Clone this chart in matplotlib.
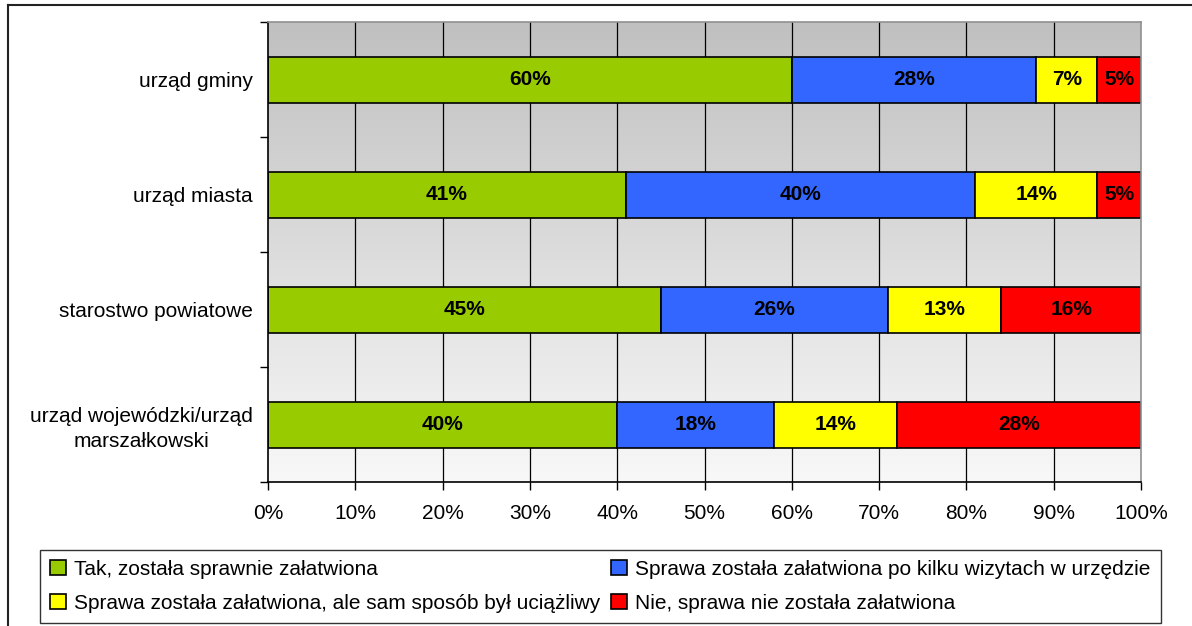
import matplotlib.pyplot as plt
import numpy as np
from matplotlib.lines import Line2D
from matplotlib.patches import Patch
from matplotlib.colors import LinearSegmentedColormap

plt.rcParams['font.family'] = ['Liberation Sans', 'DejaVu Sans']

# Categories from top to bottom
offices = ['urząd gminy', 'urząd miasta', 'starostwo powiatowe',
           'urząd wojewódzki/urząd\nmarszałkowski']
series_names = ['Tak, została sprawnie załatwiona',
                'Sprawa została załatwiona po kilku wizytach w urzędzie',
                'Sprawa została załatwiona, ale sam sposób był uciążliwy',
                'Nie, sprawa nie została załatwiona']
tak = [60, 41, 45, 40]
kilka_wizyt = [28, 40, 26, 18]
uciazliwy = [7, 14, 13, 14]
nie = [5, 5, 16, 28]
colors = ['#99CC00', '#3366FF', '#FFFF00', '#FF0000']

FS = 15

fig = plt.figure(figsize=(11.92, 6.26), dpi=100)
ax = fig.add_axes([268 / 1192, 1 - 482 / 626, 873 / 1192, 460 / 626])

# outer frame (only top and left edges fall inside the image)
fig.add_artist(Line2D([8 / 1192, 1.01], [1 - 5 / 626] * 2, color='#222222', lw=1.5,
                      transform=fig.transFigure))
fig.add_artist(Line2D([8 / 1192] * 2, [-0.01, 1 - 5 / 626], color='#222222', lw=1.5,
                      transform=fig.transFigure))

# gray gradient behind the bars
grad = np.linspace(0, 1, 256).reshape(-1, 1)
ax.imshow(grad, cmap=LinearSegmentedColormap.from_list('bg', ['#c0c0c0', '#f8f8f8']),
          aspect='auto', extent=[0, 100, 3.5, -0.5], zorder=0, interpolation='bicubic')

y = np.arange(len(offices))
for xv in range(10, 100, 10):
    ax.axvline(xv, color='black', lw=0.9, zorder=1)

left = np.zeros(len(offices))
for vals, col in zip([tak, kilka_wizyt, uciazliwy, nie], colors):
    vals = np.array(vals, dtype=float)
    ax.barh(y, vals, left=left, height=0.4, color=col, edgecolor='black', lw=1.2, zorder=2)
    for yi, l, v in zip(y, left, vals):
        ax.text(l + v / 2, yi, f'{int(v)}%', ha='center', va='center',
                fontsize=FS, fontweight='bold', zorder=3)
    left += vals

ax.set_xlim(0, 100)
ax.set_ylim(3.5, -0.5)
ax.set_xticks(range(0, 101, 10))
ax.set_xticklabels([f'{v}%' for v in range(0, 101, 10)], fontsize=FS)
ax.set_yticks(y)
ax.set_yticklabels(offices, fontsize=FS, multialignment='center', linespacing=1.35)
ax.tick_params(axis='y', length=0, pad=11)
ax.set_yticks(np.arange(-0.5, 4, 1), minor=True)
ax.tick_params(axis='y', which='minor', length=6, width=1)
ax.tick_params(axis='x', length=6, width=1, pad=10)
for s in ['top', 'right']:
    ax.spines[s].set_color('#909090')
    ax.spines[s].set_linewidth(1.2)
for s in ['left', 'bottom']:
    ax.spines[s].set_linewidth(1.2)

handles = [Patch(facecolor=c, edgecolor='black', lw=1.2) for c in colors]
order = [0, 2, 1, 3]
leg = fig.legend([handles[i] for i in order], [series_names[i] for i in order],
                 ncol=2, loc='lower left', bbox_to_anchor=(40 / 1192, 3 / 626),
                 fontsize=FS, frameon=True, fancybox=False,
                 edgecolor='black', handlelength=0.75, handleheight=0.75,
                 handletextpad=0.4, labelspacing=0.7, borderpad=0.5, columnspacing=0.5,
                 borderaxespad=0)
leg.get_frame().set_linewidth(1.0)

fig.savefig('out.png', dpi=100)
